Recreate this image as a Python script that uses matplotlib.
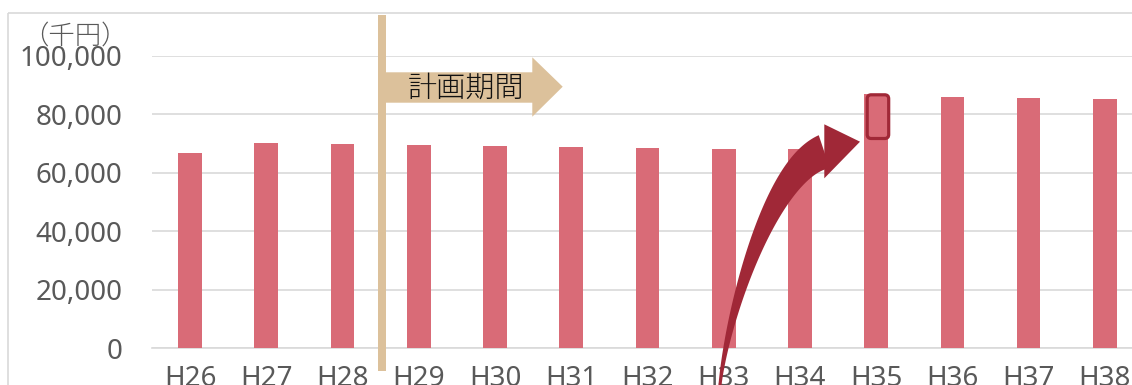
import numpy as np
import matplotlib
matplotlib.use("Agg")
import matplotlib.pyplot as plt
from matplotlib.patches import Polygon, Rectangle, FancyBboxPatch

# ---- data ----
categories = ["H26", "H27", "H28", "H29", "H30", "H31", "H32",
              "H33", "H34", "H35", "H36", "H37", "H38"]
values = [66700, 70300, 69700, 69400, 69100, 68900, 68500,
          68200, 68000, 86800, 86000, 85700, 85200]
yticks = [0, 20000, 40000, 60000, 80000, 100000]
unit_label = "（千円）"
period_label = "計画期間"

W, H = 1132, 385
BAR = "#D96B77"
DARK = "#A02837"
TAN = "#DCC19B"
GRID = "#D9D9D9"
TXT = "#595959"

plt.rcParams['font.family'] = ['Noto Sans', 'Noto Sans CJK JP', 'DejaVu Sans']

fig = plt.figure(figsize=(W / 100, H / 100), dpi=100)

left, right, top, bottom = 151.9, 1143.0, 55.8, 348.3
ax = fig.add_axes([left / W, 1 - bottom / H, (right - left) / W, (bottom - top) / H])
x = np.arange(len(categories))
ax.bar(x, values, width=0.31, color=BAR, zorder=3)
ax.set_xlim(-0.5, len(categories) - 0.5)
ax.set_ylim(0, 100000)
ax.set_yticks(yticks)
ax.set_yticklabels([f"{v:,}" for v in yticks])
ax.set_xticks(x)
ax.set_xticklabels(categories)
ax.yaxis.grid(True, color=GRID, lw=1.2, zorder=0)
ax.set_axisbelow(True)
for s in ["top", "right", "left"]:
    ax.spines[s].set_visible(False)
ax.spines["bottom"].set_color(GRID)
ax.spines["bottom"].set_linewidth(1.2)
ax.tick_params(axis="both", length=0, colors=TXT, labelsize=20)
ax.tick_params(axis="y", pad=21)
ax.tick_params(axis="x", pad=12)
for lab in ax.get_xticklabels() + ax.get_yticklabels():
    lab.set_fontweight("light")
    lab.set_color(TXT)

# overlay axes in pixel coordinates for annotations
ov = fig.add_axes([0, 0, 1, 1], zorder=10)
ov.set_xlim(0, W)
ov.set_ylim(H, 0)
ov.axis("off")
ov.patch.set_alpha(0)

# outer chart frame
ov.add_patch(Rectangle((8.3, 13.3), 1200, 500, fill=False, ec=GRID, lw=1.2))

# unit label
ov.text(75, 36, unit_label, ha="center", va="center", fontsize=19, color=TXT,
        family=['Noto Sans CJK JP', 'DejaVu Sans'], fontweight="light")

# tan vertical separator and arrow
ov.add_patch(Rectangle((378, 15), 8, 356, color=TAN, lw=0))
ov.add_patch(Polygon([(386, 72.3), (532.3, 72.3), (532.3, 57.3), (562.7, 86.7),
                      (532.3, 116.7), (532.3, 102.7), (386, 102.7)],
                     closed=True, color=TAN, lw=0))
ov.text(466, 88, period_label, ha="center", va="center", fontsize=21, color="#111111",
        family=['Noto Sans CJK JP', 'DejaVu Sans'], fontweight="light")

# curved red arrow
S = np.array([719.7, 388.0])
C1 = np.array([726.0, 320.0])
C2 = np.array([770.0, 170.0])
E = np.array([824.3, 151.8])
t = np.linspace(0, 1, 120)[:, None]
P = (1 - t) ** 3 * S + 3 * (1 - t) ** 2 * t * C1 + 3 * (1 - t) * t ** 2 * C2 + t ** 3 * E
D = 3 * (1 - t) ** 2 * (C1 - S) + 6 * (1 - t) * t * (C2 - C1) + 3 * t ** 2 * (E - C2)
D = D / np.linalg.norm(D, axis=1, keepdims=True)
N = np.column_stack([D[:, 1], -D[:, 0]])
wdt = (3 + 32 * t[:, 0] ** 1.5) / 2
edge1 = P + N * wdt[:, None]
edge2 = P - N * wdt[:, None]
shaft = np.vstack([edge1, edge2[::-1]])
ov.add_patch(Polygon(shaft, closed=True, color=DARK, lw=0))
ov.add_patch(Polygon([(824.3, 124.3), (860.0, 141.7), (824.3, 178.3)],
                     closed=True, color=DARK, lw=0))

# highlight box on H35
ov.add_patch(FancyBboxPatch((867.2, 94.8), 21.5, 43.7,
                            boxstyle="round,pad=0,rounding_size=4",
                            fill=False, ec=DARK, lw=2.3))

fig.savefig("out.png", dpi=100)
